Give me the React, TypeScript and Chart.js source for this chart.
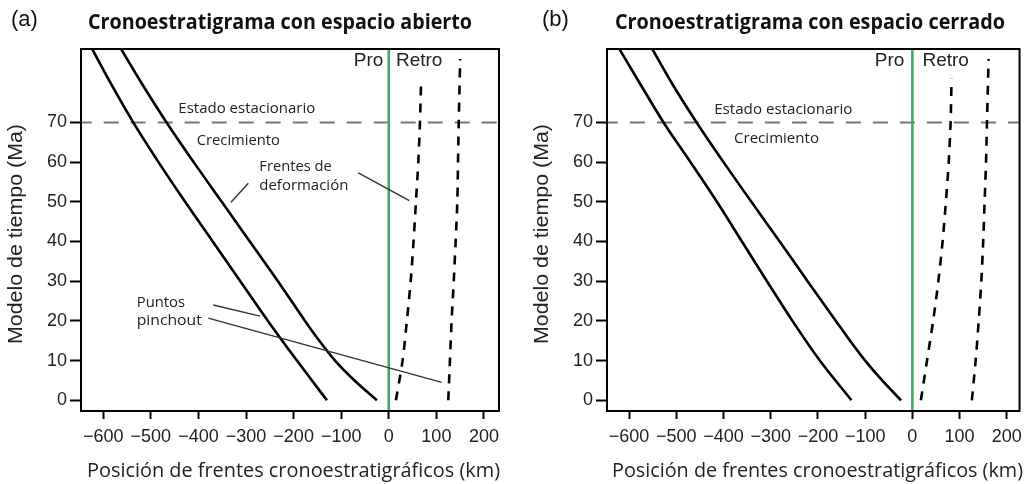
import React, { useEffect, useRef } from 'react';
import { Chart, registerables } from 'chart.js';

Chart.register(...registerables);

// ---- data (time in Ma, positions in km) ----
const timeMa = [0, 10, 20, 30, 40, 50, 60, 70, 80, 90];
const proInnerTimeMa = [0, 5, 10, 15, 20, 30, 40, 50, 60, 70, 80, 90];
const retroInnerTimeMa = [0, 10, 20, 30, 40, 50, 60, 70, 81];
const retroOuterTimeMa = [0, 10, 20, 30, 40, 50, 60, 70, 86];

// (a) open space
const proOuterOpen = [-130, -193, -254, -312, -370, -428, -484, -537, -585, -630];
const proInnerOpen = [-25, -72, -113, -146, -176, -233, -292, -351, -410, -467, -520, -570];
const retroInnerOpen = [15, 29, 38, 46, 52, 57, 62, 65.5, 68];
const retroOuterOpen = [125, 128.5, 132, 136.5, 140.5, 144, 145.5, 147, 150];

// (b) closed space
const proOuterClosed = [-129, -196, -254, -308, -361, -414, -470, -527, -578, -628];
const proInnerClosed = [-24, -64, -100, -132, -162, -222, -281, -341, -400, -457, -510, -558];
const retroInnerClosed = [18, 31, 44, 55, 64, 71, 77, 81, 83];
const retroOuterClosed = [126, 134, 140.5, 146, 150, 153, 156, 158, 161.5];

const steadyStateMa = 70;
const orogenAxisKm = 0;

const xTickValues = [-600, -500, -400, -300, -200, -100, 0, 100, 200];
const xTickLabels = ['\u2212600', '\u2212500', '\u2212400', '\u2212300', '\u2212200', '\u2212100', '0', '100', '200'];
const yTickValues = [0, 10, 20, 30, 40, 50, 60, 70];
const yTickLabels = ['0', '10', '20', '30', '40', '50', '60', '70'];

// ---- styling / layout ----
const X_MIN = -646.8;
const Y_MIN = -2.7;
const Y_MAX = 88.5;
const GREEN = '#45a862';
const TEXT = '#222';
const HUMANIST = '"Open Sans", "Noto Sans", sans-serif';
const HELV = '"Liberation Sans", Arial, sans-serif';

type Note = { text: string; x: number; y: number; w?: number; align?: CanvasTextAlign; font: string };
type Leader = { x1: number; y1: number; x2: number; y2: number };

const panels = [
  {
    key: 'a',
    left: 0,
    width: 526,
    xMax: 231.6,
    padRight: 27,
    label: '(a)',
    labelX: 11,
    title: 'Cronoestratigrama con espacio abierto',
    titleX: 88,
    titleW: 384,
    xTitleX: 87,
    xTitleW: 413,
    proOuter: proOuterOpen,
    proInner: proInnerOpen,
    retroInner: retroInnerOpen,
    retroOuter: retroOuterOpen,
    notes: [
      { text: 'Estado estacionario', x: -442.3, y: 72.5, w: 137, font: `15px ${HUMANIST}` },
      { text: 'Crecimiento', x: -403.7, y: 64.3, w: 83.3, font: `15px ${HUMANIST}` },
      { text: 'Frentes de', x: -272.1, y: 57.8, w: 72.4, font: `15px ${HUMANIST}` },
      { text: 'deformación', x: -272.1, y: 53.0, w: 89, font: `15px ${HUMANIST}` },
      { text: 'Puntos', x: -529.7, y: 23.6, w: 48.3, font: `15px ${HUMANIST}` },
      { text: 'pinchout', x: -529.7, y: 19.0, w: 65, font: `15px ${HUMANIST}` },
      { text: 'Pro', x: -11.6, y: 84.1, align: 'right', font: `19px ${HELV}` },
      { text: 'Retro', x: 15.1, y: 84.1, align: 'left', font: `19px ${HELV}` },
    ] as Note[],
    leaders: [
      { x1: -64.1, y1: 57.3, x2: 43.1, y2: 50.3 },
      { x1: -295.2, y1: 54.7, x2: -331.6, y2: 49.9 },
      { x1: -368.8, y1: 24.0, x2: -270.6, y2: 21.2 },
      { x1: -379.3, y1: 20.7, x2: 111.2, y2: 4.5 },
    ] as Leader[],
  },
  {
    key: 'b',
    left: 526,
    width: 503,
    xMax: 227,
    padRight: 6,
    label: '(b)',
    labelX: 16,
    title: 'Cronoestratigrama con espacio cerrado',
    titleX: 89,
    titleW: 390,
    xTitleX: 86,
    xTitleW: 411,
    proOuter: proOuterClosed,
    proInner: proInnerClosed,
    retroInner: retroInnerClosed,
    retroOuter: retroOuterClosed,
    notes: [
      { text: 'Estado estacionario', x: -419.8, y: 72.1, w: 138.3, font: `15px ${HUMANIST}` },
      { text: 'Crecimiento', x: -377.8, y: 64.8, w: 85, font: `15px ${HUMANIST}` },
      { text: 'Pro', x: -17.0, y: 84.1, align: 'right', font: `19px ${HELV}` },
      { text: 'Retro', x: 21.4, y: 84.1, align: 'left', font: `19px ${HELV}` },
    ] as Note[],
    leaders: [] as Leader[],
  },
];

function fitText(ctx: CanvasRenderingContext2D, text: string, x: number, y: number, w: number | undefined, align: CanvasTextAlign) {
  ctx.save();
  ctx.textAlign = align;
  ctx.textBaseline = 'alphabetic';
  if (w) {
    const m = ctx.measureText(text).width;
    const s = w / m;
    ctx.translate(x, y);
    ctx.scale(s, 1);
    ctx.fillText(text, 0, 0);
  } else {
    ctx.fillText(text, x, y);
  }
  ctx.restore();
}

function Panel({ cfg }: { cfg: (typeof panels)[number] }) {
  const ref = useRef<HTMLCanvasElement>(null);
  useEffect(() => {
    const canvas = ref.current!;
    const pts = (xs: number[], ts: number[]) => xs.map((x, i) => ({ x, y: ts[i] }));
    const base = { borderColor: '#000', borderWidth: 2.6, showLine: true, pointRadius: 0, clip: 0, order: 0 };
    const solid = { ...base, cubicInterpolationMode: 'monotone' };
    const dashed = { ...base, tension: 0.3, borderDash: [9, 8] };

    const overlay = {
      id: 'overlay' + cfg.key,
      afterDatasetsDraw(chart: any) {
        const { ctx, chartArea: a, scales } = chart;
        const sx = scales.x, sy = scales.y;
        ctx.save();
        // leader lines
        ctx.strokeStyle = '#333';
        ctx.lineWidth = 1.4;
        for (const l of cfg.leaders) {
          ctx.beginPath();
          ctx.moveTo(sx.getPixelForValue(l.x1), sy.getPixelForValue(l.y1));
          ctx.lineTo(sx.getPixelForValue(l.x2), sy.getPixelForValue(l.y2));
          ctx.stroke();
        }
        // frame
        ctx.strokeStyle = '#000';
        ctx.lineWidth = 2;
        ctx.strokeRect(a.left, a.top, a.right - a.left, a.bottom - a.top);
        // notes
        ctx.fillStyle = TEXT;
        for (const n of cfg.notes) {
          ctx.font = n.font;
          fitText(ctx, n.text, sx.getPixelForValue(n.x), sy.getPixelForValue(n.y), n.w, n.align || 'left');
        }
        // panel label & title
        ctx.fillStyle = '#111';
        ctx.font = `22px ${HELV}`;
        fitText(ctx, cfg.label, cfg.labelX, 26, undefined, 'left');
        ctx.font = `bold 21px ${HUMANIST}`;
        fitText(ctx, cfg.title, cfg.titleX, 28.5, cfg.titleW, 'left');
        // axis titles
        ctx.fillStyle = TEXT;
        ctx.font = `20px ${HUMANIST}`;
        fitText(ctx, 'Posición de frentes cronoestratigráficos (km)', cfg.xTitleX, 476.5, cfg.xTitleW, 'left');
        ctx.save();
        ctx.translate(22, 234);
        ctx.rotate(-Math.PI / 2);
        ctx.font = `20px ${HELV}`;
        fitText(ctx, 'Modelo de tiempo (Ma)', 0, 0, 220, 'center');
        ctx.restore();
        ctx.restore();
      },
    };

    const chart = new Chart(canvas, {
      type: 'scatter',
      data: {
        datasets: [
          { ...solid, data: pts(cfg.proOuter, timeMa) },
          { ...solid, data: pts(cfg.proInner, proInnerTimeMa) },
          { ...dashed, data: pts(cfg.retroInner, retroInnerTimeMa) },
          { ...dashed, data: pts(cfg.retroOuter, retroOuterTimeMa) },
          {
            data: [{ x: orogenAxisKm, y: Y_MIN - 5 }, { x: orogenAxisKm, y: Y_MAX + 5 }],
            borderColor: GREEN, borderWidth: 2.6, showLine: true, pointRadius: 0, clip: 0, order: 1,
          },
          {
            data: [{ x: -700, y: steadyStateMa }, { x: 300, y: steadyStateMa }],
            borderColor: '#777', borderWidth: 2, borderDash: [15, 12], borderDashOffset: 6,
            showLine: true, pointRadius: 0, clip: 0, order: 2,
          },
        ] as any,
      },
      options: {
        responsive: false,
        animation: false,
        events: [],
        layout: { padding: { top: 49, right: cfg.padRight, bottom: 0, left: 0 } },
        plugins: { legend: { display: false }, tooltip: { enabled: false }, title: { display: false } },
        scales: {
          x: {
            type: 'linear',
            min: X_MIN,
            max: cfg.xMax,
            afterBuildTicks: (s: any) => { s.ticks = xTickValues.map((v) => ({ value: v })); },
            afterFit: (s: any) => { s.height = 73; },
            ticks: {
              autoSkip: false, maxRotation: 0, minRotation: 0, padding: 7, color: TEXT,
              font: { family: HELV, size: 18 },
              callback: (_v: any, i: number) => xTickLabels[i],
            },
            grid: { display: true, drawOnChartArea: false, drawTicks: true, tickLength: 8, tickColor: '#000', tickWidth: 2 },
            border: { display: false },
          },
          y: {
            type: 'linear',
            min: Y_MIN,
            max: Y_MAX,
            afterBuildTicks: (s: any) => { s.ticks = yTickValues.map((v) => ({ value: v })); },
            afterFit: (s: any) => { s.width = 81; },
            ticks: {
              autoSkip: false, padding: 3, color: TEXT,
              font: { family: HELV, size: 18 },
              callback: (_v: any, i: number) => yTickLabels[i],
            },
            grid: { display: true, drawOnChartArea: false, drawTicks: true, tickLength: 11, tickColor: '#000', tickWidth: 2 },
            border: { display: false },
          },
        },
      } as any,
      plugins: [overlay],
    });

    let alive = true;
    const fonts = (document as any).fonts;
    if (fonts && fonts.load) {
      Promise.all([
        fonts.load(`bold 21px "Open Sans"`),
        fonts.load(`15px "Open Sans"`),
        fonts.load(`18px "Liberation Sans"`),
      ]).then(() => { if (alive) chart.update(); }).catch(() => {});
    }
    return () => { alive = false; chart.destroy(); };
  }, [cfg]);

  return (
    <canvas
      ref={ref}
      width={cfg.width}
      height={484}
      style={{ position: 'absolute', left: cfg.left, top: 0, width: cfg.width, height: 484, display: 'block' }}
    />
  );
}

export default function App() {
  return (
    <div style={{ position: 'absolute', left: 0, top: 0, width: 1029, height: 484, background: '#fff', overflow: 'hidden' }}>
      {panels.map((p) => (
        <Panel key={p.key} cfg={p} />
      ))}
    </div>
  );
}
